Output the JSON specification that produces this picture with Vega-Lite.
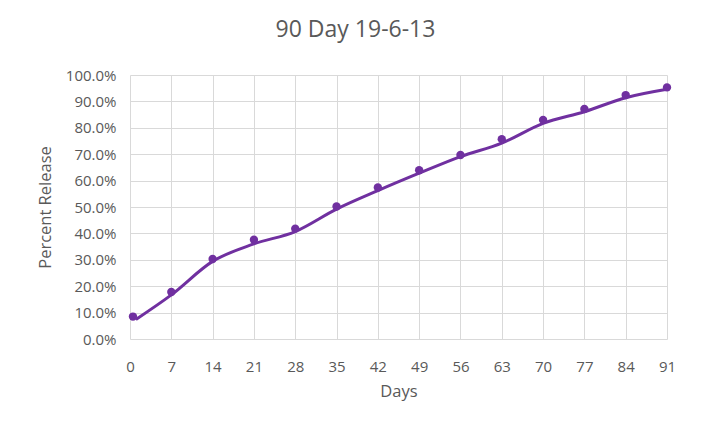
{
  "$schema": "https://vega.github.io/schema/vega-lite/v6.json",
  "width": 537,
  "height": 264,
  "autosize": {"type": "none"},
  "padding": {"left": 130, "top": 75, "right": 38, "bottom": 85},
  "background": "white",
  "title": {
    "text": "90 Day 19-6-13",
    "fontSize": 23,
    "font": "Open Sans",
    "fontWeight": "normal",
    "color": "#595959",
    "anchor": "middle",
    "frame": "group",
    "dx": -43,
    "offset": 26
  },
  "config": {
    "view": {"stroke": null},
    "axis": {
      "labelFont": "Open Sans",
      "titleFont": "Open Sans",
      "labelColor": "#595959",
      "titleColor": "#595959",
      "labelFontSize": 15,
      "titleFontSize": 16.5,
      "titleFontWeight": "normal",
      "gridColor": "#d9d9d9",
      "gridWidth": 1,
      "ticks": false,
      "domain": false,
      "labelOverlap": false,
      "labelFlush": false
    }
  },
  "datasets": {
    "points": [
      {"day": 0.5, "release": 0.085},
      {"day": 7, "release": 0.178},
      {"day": 14, "release": 0.303},
      {"day": 21, "release": 0.376},
      {"day": 28, "release": 0.418},
      {"day": 35, "release": 0.502},
      {"day": 42, "release": 0.574},
      {"day": 49, "release": 0.639},
      {"day": 56, "release": 0.697},
      {"day": 63, "release": 0.757},
      {"day": 70, "release": 0.830},
      {"day": 77, "release": 0.871},
      {"day": 84, "release": 0.924},
      {"day": 91, "release": 0.953}
    ],
    "fit": [
      {"day": 1, "release": 0.074},
      {"day": 7, "release": 0.167},
      {"day": 14, "release": 0.294},
      {"day": 21, "release": 0.360},
      {"day": 28, "release": 0.407},
      {"day": 35, "release": 0.492},
      {"day": 42, "release": 0.562},
      {"day": 49, "release": 0.628},
      {"day": 56, "release": 0.691},
      {"day": 63, "release": 0.742},
      {"day": 70, "release": 0.817},
      {"day": 77, "release": 0.861},
      {"day": 84, "release": 0.914},
      {"day": 91, "release": 0.946}
    ]
  },
  "encoding": {
    "x": {
      "field": "day", "type": "quantitative",
      "scale": {"domain": [0, 91], "nice": false},
      "axis": {"values": [0,7,14,21,28,35,42,49,56,63,70,77,84,91], "title": "Days", "labelPadding": 20, "titlePadding": 9}
    },
    "y": {
      "field": "release", "type": "quantitative",
      "scale": {"domain": [0, 1], "nice": false},
      "axis": {"values": [0,0.1,0.2,0.3,0.4,0.5,0.6,0.7,0.8,0.9,1], "tickCount": 11, "format": ".1%", "title": "Percent Release", "labelPadding": 14, "titlePadding": 12}
    }
  },
  "layer": [
    {
      "data": {"name": "fit"},
      "mark": {"type": "line", "color": "#7030A0", "strokeWidth": 3, "interpolate": "monotone"}
    },
    {
      "data": {"name": "points"},
      "mark": {"type": "point", "filled": true, "color": "#7030A0", "size": 70, "opacity": 1}
    }
  ]
}
